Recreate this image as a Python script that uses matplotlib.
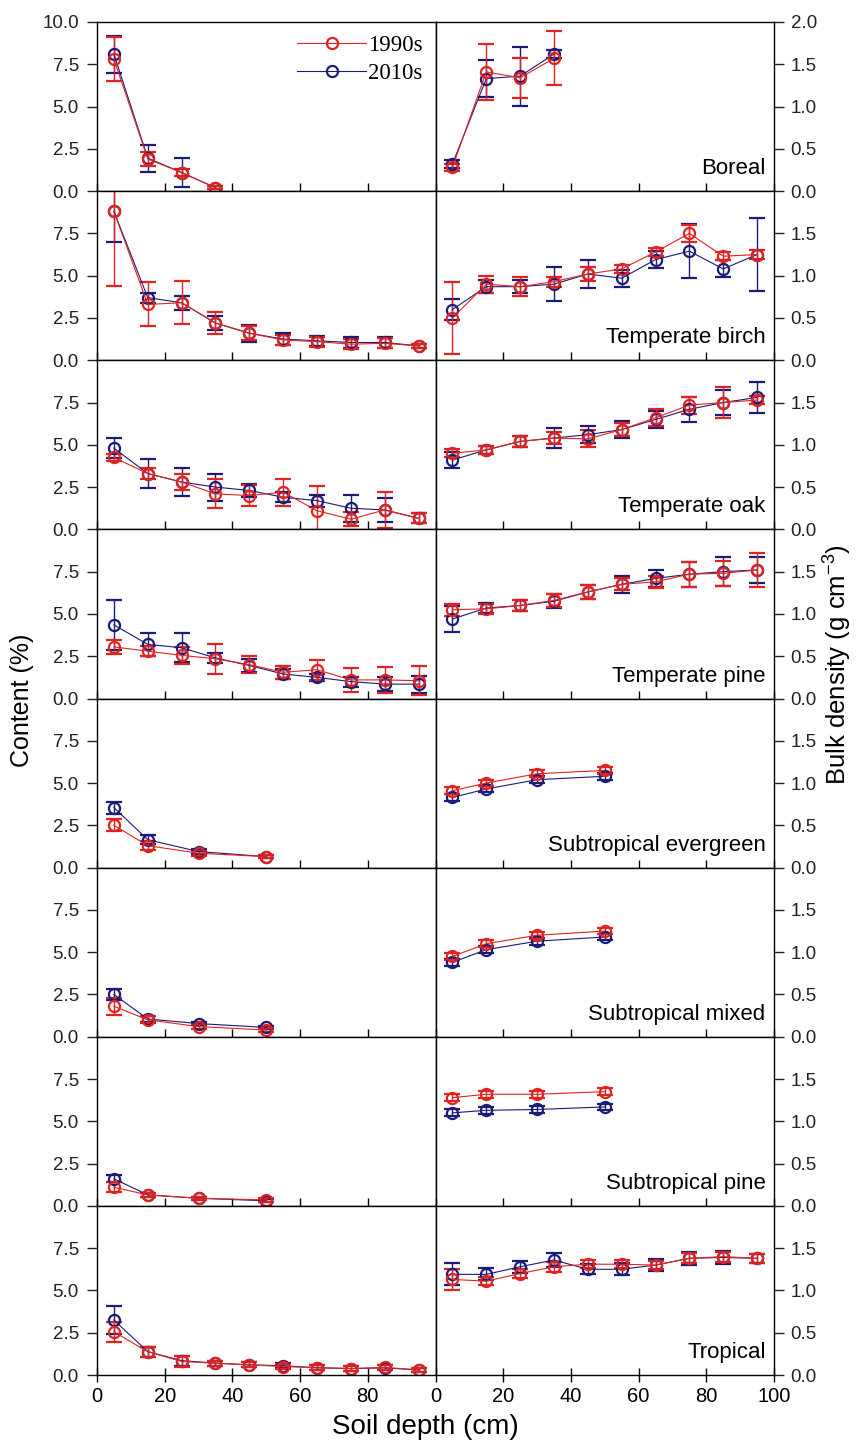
import matplotlib.pyplot as plt
from matplotlib.lines import Line2D
from matplotlib.ticker import FormatStrFormatter

plt.rcParams['font.family'] = ['Liberation Sans', 'DejaVu Sans']
plt.rcParams['mathtext.default'] = 'regular'

# soil depth midpoints (cm)
depth_boreal = [5, 15, 25, 35]
depth_temperate = [5, 15, 25, 35, 45, 55, 65, 75, 85, 95]
depth_subtropical = [5, 15, 30, 50]
depth_tropical = [5, 15, 25, 35, 45, 55, 65, 75, 85, 95]

# Boreal
boreal_c90 = [7.8, 1.9, 1.1, 0.2]
boreal_c90_err = [1.3, 0.4, 0.2, 0.1]
boreal_c10 = [8.1, 1.95, 1.1, 0.2]
boreal_c10_err = [1.1, 0.8, 0.85, 0.1]
boreal_bd90 = [0.28, 1.41, 1.34, 1.57]
boreal_bd90_err = [0.04, 0.33, 0.24, 0.32]
boreal_bd10 = [0.32, 1.33, 1.36, 1.62]
boreal_bd10_err = [0.05, 0.22, 0.35, 0.05]

# Temperate birch
birch_c90 = [8.8, 3.3, 3.4, 2.2, 1.6, 1.2, 1.1, 0.95, 1.0, 0.85]
birch_c90_err = [4.4, 1.3, 1.27, 0.65, 0.4, 0.3, 0.3, 0.3, 0.3, 0.1]
birch_c10 = [8.8, 3.7, 3.4, 2.2, 1.6, 1.25, 1.15, 1.05, 1.05, 0.85]
birch_c10_err = [1.8, 0.3, 0.4, 0.4, 0.5, 0.35, 0.3, 0.3, 0.3, 0.1]
birch_bd90 = [0.5, 0.9, 0.87, 0.93, 1.02, 1.08, 1.28, 1.5, 1.23, 1.25]
birch_bd90_err = [0.43, 0.1, 0.11, 0.06, 0.08, 0.05, 0.05, 0.1, 0.05, 0.05]
birch_bd10 = [0.6, 0.87, 0.87, 0.9, 1.02, 0.97, 1.19, 1.29, 1.08, 1.25]
birch_bd10_err = [0.12, 0.08, 0.08, 0.2, 0.17, 0.1, 0.1, 0.32, 0.1, 0.43]

# Temperate oak
oak_c90 = [4.25, 3.3, 2.8, 2.1, 2.0, 2.2, 1.1, 0.6, 1.15, 0.65]
oak_c90_err = [0.2, 0.3, 0.5, 0.85, 0.6, 0.8, 1.45, 0.4, 1.05, 0.3]
oak_c10 = [4.8, 3.3, 2.8, 2.5, 2.3, 1.9, 1.7, 1.25, 1.15, 0.65]
oak_c10_err = [0.6, 0.85, 0.85, 0.8, 0.4, 0.3, 0.35, 0.8, 0.7, 0.3]
oak_bd90 = [0.9, 0.94, 1.04, 1.08, 1.07, 1.18, 1.32, 1.47, 1.5, 1.53]
oak_bd90_err = [0.05, 0.05, 0.06, 0.07, 0.1, 0.08, 0.1, 0.1, 0.18, 0.05]
oak_bd10 = [0.82, 0.94, 1.04, 1.08, 1.12, 1.18, 1.3, 1.42, 1.5, 1.56]
oak_bd10_err = [0.1, 0.05, 0.06, 0.12, 0.1, 0.1, 0.1, 0.15, 0.15, 0.18]

# Temperate pine
tpine_c90 = [3.05, 2.8, 2.55, 2.35, 2.0, 1.55, 1.7, 1.1, 1.1, 1.05]
tpine_c90_err = [0.4, 0.3, 0.5, 0.9, 0.5, 0.4, 0.6, 0.7, 0.75, 0.85]
tpine_c10 = [4.35, 3.2, 3.0, 2.4, 1.95, 1.45, 1.25, 1.0, 0.85, 0.85]
tpine_c10_err = [1.5, 0.7, 0.85, 0.3, 0.4, 0.3, 0.2, 0.3, 0.4, 0.5]
tpine_bd90 = [1.05, 1.06, 1.1, 1.16, 1.26, 1.35, 1.38, 1.47, 1.48, 1.52]
tpine_bd90_err = [0.07, 0.06, 0.06, 0.08, 0.08, 0.07, 0.07, 0.15, 0.15, 0.2]
tpine_bd10 = [0.94, 1.07, 1.1, 1.15, 1.26, 1.35, 1.42, 1.47, 1.5, 1.52]
tpine_bd10_err = [0.15, 0.06, 0.06, 0.08, 0.08, 0.1, 0.1, 0.15, 0.17, 0.15]

# Subtropical evergreen
sev_c90 = [2.5, 1.3, 0.85, 0.65]
sev_c90_err = [0.35, 0.25, 0.15, 0.1]
sev_c10 = [3.55, 1.65, 0.95, 0.65]
sev_c10_err = [0.35, 0.25, 0.15, 0.1]
sev_bd90 = [0.91, 1.0, 1.11, 1.15]
sev_bd90_err = [0.04, 0.04, 0.04, 0.04]
sev_bd10 = [0.83, 0.93, 1.04, 1.08]
sev_bd10_err = [0.04, 0.04, 0.04, 0.04]

# Subtropical mixed
smix_c90 = [1.8, 1.0, 0.6, 0.4]
smix_c90_err = [0.5, 0.2, 0.15, 0.1]
smix_c10 = [2.5, 1.05, 0.78, 0.55]
smix_c10_err = [0.35, 0.15, 0.1, 0.1]
smix_bd90 = [0.95, 1.1, 1.2, 1.25]
smix_bd90_err = [0.04, 0.04, 0.04, 0.04]
smix_bd10 = [0.88, 1.03, 1.13, 1.18]
smix_bd10_err = [0.04, 0.04, 0.04, 0.04]

# Subtropical pine
spine_c90 = [1.1, 0.65, 0.45, 0.35]
spine_c90_err = [0.3, 0.1, 0.1, 0.1]
spine_c10 = [1.6, 0.65, 0.45, 0.3]
spine_c10_err = [0.2, 0.1, 0.1, 0.1]
spine_bd90 = [1.28, 1.32, 1.32, 1.35]
spine_bd90_err = [0.04, 0.04, 0.04, 0.04]
spine_bd10 = [1.1, 1.13, 1.14, 1.17]
spine_bd10_err = [0.04, 0.04, 0.04, 0.04]

# Tropical
trop_c90 = [2.55, 1.38, 0.8, 0.7, 0.6, 0.5, 0.43, 0.38, 0.45, 0.3]
trop_c90_err = [0.6, 0.3, 0.3, 0.15, 0.15, 0.15, 0.15, 0.15, 0.15, 0.12]
trop_c10 = [3.25, 1.38, 0.85, 0.7, 0.6, 0.55, 0.43, 0.38, 0.42, 0.3]
trop_c10_err = [0.85, 0.3, 0.3, 0.15, 0.15, 0.15, 0.15, 0.15, 0.15, 0.12]
trop_bd90 = [1.13, 1.11, 1.2, 1.28, 1.31, 1.31, 1.3, 1.38, 1.4, 1.38]
trop_bd90_err = [0.12, 0.05, 0.05, 0.06, 0.05, 0.05, 0.05, 0.06, 0.06, 0.05]
trop_bd10 = [1.19, 1.19, 1.28, 1.36, 1.25, 1.25, 1.3, 1.38, 1.39, 1.38]
trop_bd10_err = [0.13, 0.07, 0.07, 0.08, 0.06, 0.07, 0.07, 0.08, 0.08, 0.05]

forests = [
    ("Boreal", depth_boreal, boreal_c90, boreal_c90_err, boreal_c10, boreal_c10_err,
     boreal_bd90, boreal_bd90_err, boreal_bd10, boreal_bd10_err),
    ("Temperate birch", depth_temperate, birch_c90, birch_c90_err, birch_c10, birch_c10_err,
     birch_bd90, birch_bd90_err, birch_bd10, birch_bd10_err),
    ("Temperate oak", depth_temperate, oak_c90, oak_c90_err, oak_c10, oak_c10_err,
     oak_bd90, oak_bd90_err, oak_bd10, oak_bd10_err),
    ("Temperate pine", depth_temperate, tpine_c90, tpine_c90_err, tpine_c10, tpine_c10_err,
     tpine_bd90, tpine_bd90_err, tpine_bd10, tpine_bd10_err),
    ("Subtropical evergreen", depth_subtropical, sev_c90, sev_c90_err, sev_c10, sev_c10_err,
     sev_bd90, sev_bd90_err, sev_bd10, sev_bd10_err),
    ("Subtropical mixed", depth_subtropical, smix_c90, smix_c90_err, smix_c10, smix_c10_err,
     smix_bd90, smix_bd90_err, smix_bd10, smix_bd10_err),
    ("Subtropical pine", depth_subtropical, spine_c90, spine_c90_err, spine_c10, spine_c10_err,
     spine_bd90, spine_bd90_err, spine_bd10, spine_bd10_err),
    ("Tropical", depth_tropical, trop_c90, trop_c90_err, trop_c10, trop_c10_err,
     trop_bd90, trop_bd90_err, trop_bd10, trop_bd10_err),
]

RED = '#e2231f'
NAVY = '#1b1b78'
W, H = 860, 1452
MS, MEW = 8, 1.6


def draw(ax, x, y, err, color):
    ax.errorbar(x, y, yerr=err, color=color, marker='o', ms=MS, mfc='none',
                mec=color, mew=MEW, lw=0.8, elinewidth=1.0, capsize=5.5,
                capthick=1.0)


fig = plt.figure(figsize=(W / 100, H / 100), dpi=100)
gs = fig.add_gridspec(8, 2, left=97 / W, right=774 / W, top=1 - 22 / H,
                      bottom=1 - 1375 / H, hspace=0, wspace=0)

for i, (name, depth, c90, c90e, c10, c10e, bd90, bd90e, bd10, bd10e) in enumerate(forests):
    axl = fig.add_subplot(gs[i, 0])
    axr = fig.add_subplot(gs[i, 1])

    draw(axl, depth, c10, c10e, NAVY)
    draw(axl, depth, c90, c90e, RED)
    draw(axr, depth, bd10, bd10e, NAVY)
    draw(axr, depth, bd90, bd90e, RED)

    axl.set_xlim(0, 100)
    axr.set_xlim(0, 100)
    axl.set_ylim(0, 10)
    axr.set_ylim(0, 2)
    axl.set_yticks([0, 2.5, 5, 7.5, 10] if i == 0 else [0, 2.5, 5, 7.5])
    axr.set_yticks([0, 0.5, 1, 1.5, 2] if i == 0 else [0, 0.5, 1, 1.5])
    axl.yaxis.set_major_formatter(FormatStrFormatter('%.1f'))
    axr.yaxis.set_major_formatter(FormatStrFormatter('%.1f'))
    axr.yaxis.tick_right()

    for ax in (axl, axr):
        ax.tick_params(axis='y', direction='out', length=7, width=1,
                       labelsize=13.5, colors='#222222')
        ax.tick_params(axis='x', direction='in', length=6, width=1)
        for sp in ax.spines.values():
            sp.set_linewidth(1.0)
    axl.tick_params(axis='y', pad=6)
    axr.tick_params(axis='y', pad=5)

    last = i == len(forests) - 1
    axl.set_xticks([0, 20, 40, 60, 80])
    axr.set_xticks([0, 20, 40, 60, 80, 100])
    if last:
        for ax in (axl, axr):
            ax.tick_params(axis='x', direction='inout', length=10, labelsize=14.5,
                           pad=4)
    else:
        axl.tick_params(axis='x', labelbottom=False)
        axr.tick_params(axis='x', labelbottom=False)

    axr.text(0.975, 0.1, name, transform=axr.transAxes, ha='right',
             va='baseline', fontsize=16)

    if i == 0:
        handles = [
            Line2D([], [], color=RED, marker='o', ms=MS, mfc='none', mew=MEW, lw=0.8),
            Line2D([], [], color=NAVY, marker='o', ms=MS, mfc='none', mew=MEW, lw=0.8),
        ]
        axl.legend(handles, ['1990s', '2010s'], loc='upper right',
                   bbox_to_anchor=(1.0, 1.0), frameon=False, handlelength=3.0,
                   handletextpad=0.1, labelspacing=0.3, borderaxespad=0.15,
                   prop={'family': 'Liberation Serif', 'size': 16.5})

fig.text(22 / W, 1 - 700 / H, 'Content (%)', rotation=90, ha='center',
         va='center', fontsize=18)
fig.text(838 / W, 1 - 665 / H, 'Bulk density (g cm$^{-3}$)', rotation=90,
         ha='center', va='center', fontsize=18.5)
fig.text(425 / W, 1 - 1427 / H, 'Soil depth (cm)', ha='center', va='center',
         fontsize=20)

fig.savefig('out.png', dpi=100)
